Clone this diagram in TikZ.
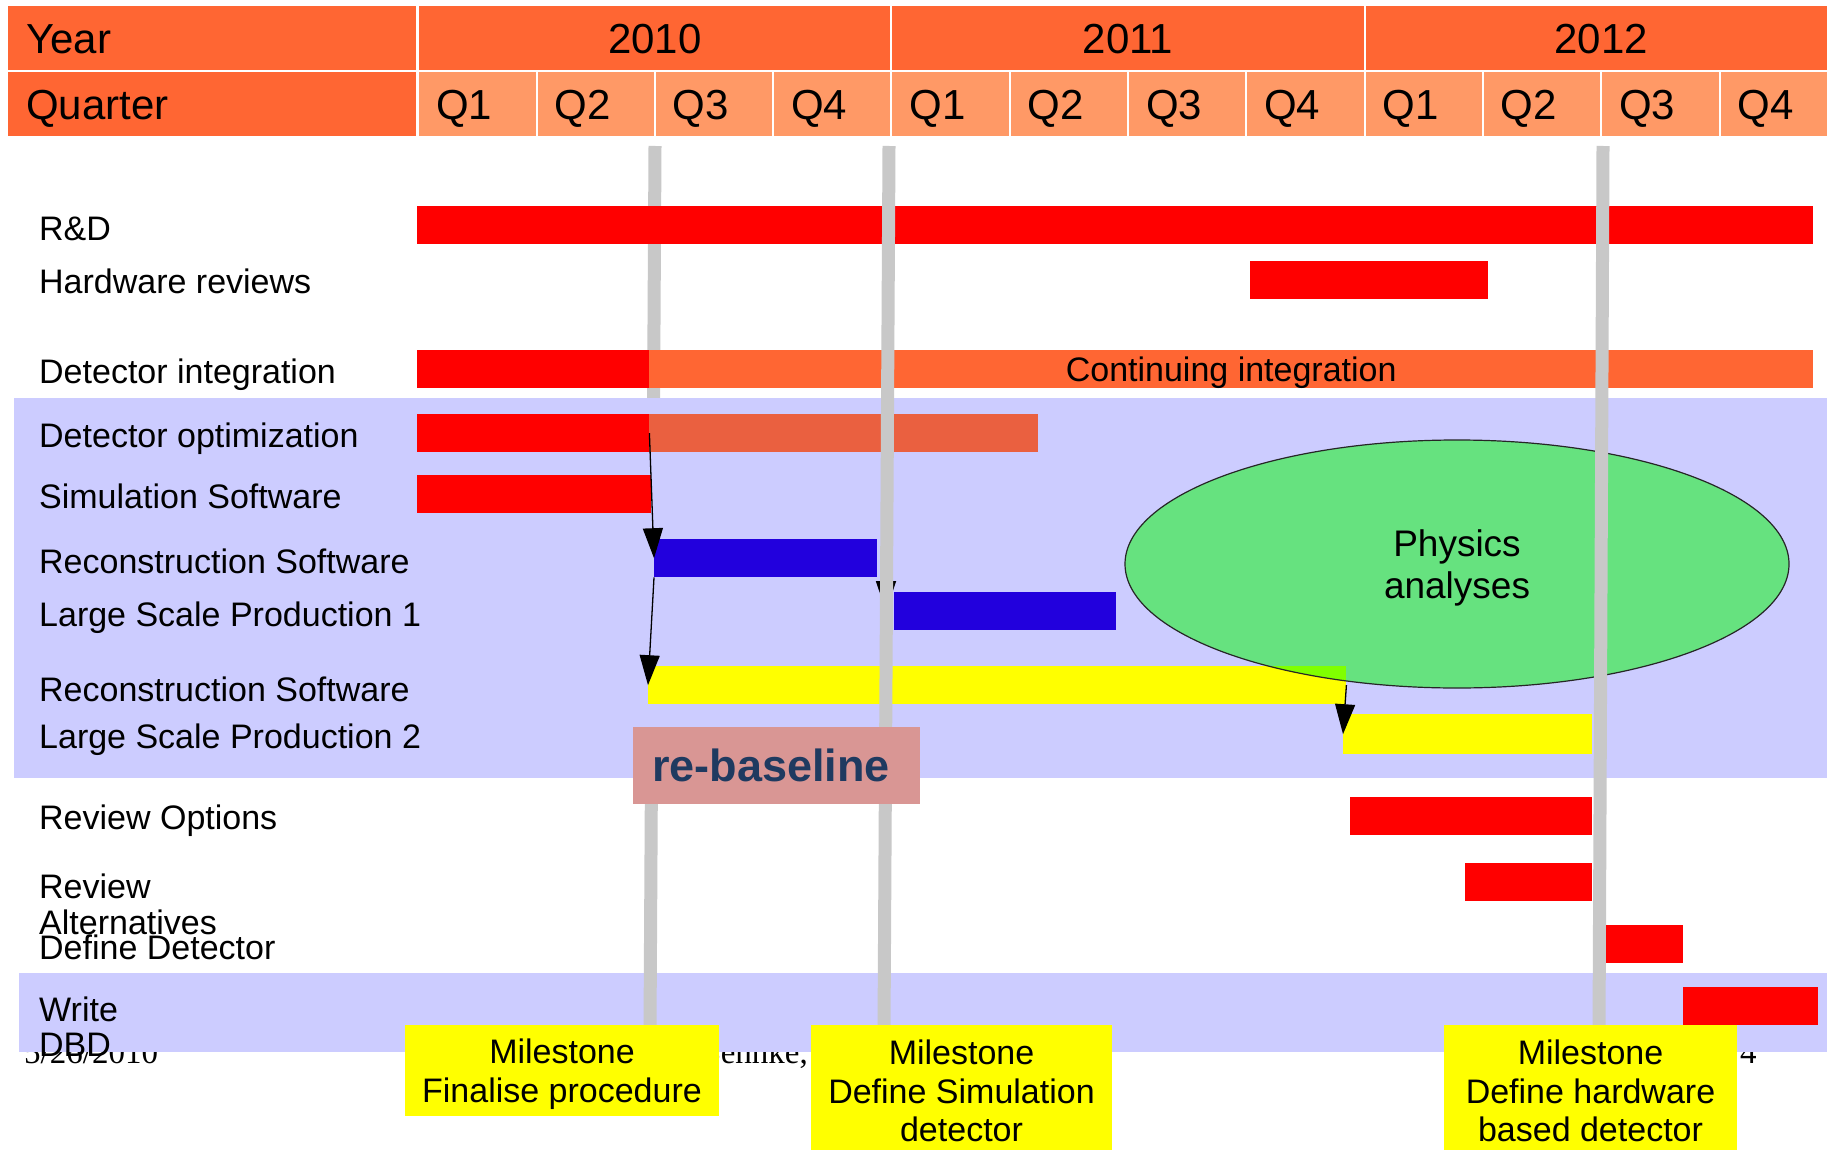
\documentclass[tikz,border=0pt]{standalone}
\usepackage{fontspec}
\setmainfont{Liberation Sans}
\newfontfamily\footserif{Liberation Serif}
\usetikzlibrary{shapes.geometric,arrows.meta}
\definecolor{hdrorange}{HTML}{FF6633}
\definecolor{qorange}{HTML}{FF9966}
\definecolor{barred}{HTML}{FF0000}
\definecolor{optorange}{HTML}{EA6040}
\definecolor{barblue}{HTML}{2200DD}
\definecolor{baryellow}{HTML}{FFFF00}
\definecolor{lav}{HTML}{CCCCFF}
\definecolor{msgray}{HTML}{C8C8C8}
\definecolor{ellgreen}{HTML}{66E27F}
\definecolor{overlapgreen}{HTML}{80FF00}
\definecolor{rbpink}{HTML}{D99694}
\definecolor{rbnavy}{HTML}{1F3A60}
\newcommand\lblfont{\fontsize{34}{38.5}\selectfont}
\newcommand\hdrfont{\fontsize{42}{46}\selectfont}
\newcommand\ellfont{\fontsize{37}{42}\selectfont}
\newcommand\rbfont{\fontsize{45}{50}\selectfont\bfseries}
\newcommand\footfont{\footserif\fontsize{33}{36}\selectfont}
\begin{document}
\begin{tikzpicture}[x=1pt,y=-1pt,
  hdrcell/.style={anchor=north west, fill=hdrorange, minimum height=64pt, inner ysep=0pt,
                  font=\hdrfont, text height=30pt, text depth=0pt},
  bar/.style={anchor=north west, inner sep=0pt, minimum height=38pt},
  lbl/.style={anchor=west, inner sep=0pt, font=\lblfont, text height=24.3pt, text depth=0pt},
  band/.style={fill=lav},
  msline/.style={draw=msgray, line width=13pt},
  arr/.style={-{Triangle[length=30pt,width=20pt]}, line width=1.3pt, black},
  mstone/.style={fill=baryellow, inner sep=0pt, align=center, font=\lblfont},
  foot/.style={inner sep=0pt, font=\footfont}]
\clip (0,0) rectangle (1827,1150);
\fill[white] (0,0) rectangle (1827,1150);

% header
\node[hdrcell, text width=372pt, inner xsep=18pt, align=left] (yearlbl) at (8,6) {Year};
\node[hdrcell, text width=372pt, inner xsep=18pt, align=left] (quarterlbl) at (8,72) {Quarter};
\foreach \i/\yr in {0/2010,1/2011,2/2012}
  \node[hdrcell, minimum width=471.2pt, inner xsep=0pt] (y\yr) at ({419+473.2*\i},6) {\yr};
\foreach \i/\qq in {0/Q1,1/Q2,2/Q3,3/Q4,4/Q1,5/Q2,6/Q3,7/Q4,8/Q1,9/Q2,10/Q3,11/Q4}
  \node[hdrcell, fill=qorange, text width=82.3pt, inner xsep=17pt, align=left] (q\i) at ({419+118.3*\i},72) {\qq};

% footer (partly hidden)
\node[foot, anchor=base west] (fdate) at (24,1063) {5/26/2010};
\node[foot, anchor=base east] (fauthor) at (808,1063) {Behnke,};
\node[foot, anchor=base west] (fpage) at (1740,1063) {4};

% lower band
\fill[band] (19,973) rectangle (1827,1052);

% milestone line 1 (under upper band)
\coordinate (m1a) at (655,146);
\coordinate (m1b) at (650,1030);
\draw[msline] (m1a) -- (m1b);

% upper band
\fill[band] (14,398) rectangle (1827,778);

% bars
\node[bar, fill=barred, minimum width=1396pt] (rd) at (417,206) {};
\node[bar, fill=barred, minimum width=238pt] (hw) at (1250,261) {};
\node[bar, fill=barred, minimum width=232pt] (di1) at (417,350) {};
\node[bar, fill=hdrorange, minimum width=1164pt, font=\lblfont, text height=24.3pt, text depth=0pt] (di2) at (649,350) {Continuing integration};
\node[bar, fill=barred, minimum width=232pt] (do1) at (417,414) {};
\node[bar, fill=optorange, minimum width=389pt] (do2) at (649,414) {};
\node[bar, fill=barred, minimum width=234pt] (ss) at (417,475) {};
\node[bar, fill=barblue, minimum width=223pt] (rs1) at (654,539) {};
\node[bar, fill=barblue, minimum width=222pt] (lsp1) at (894,592) {};
\node[bar, fill=baryellow, minimum width=698pt] (rs2) at (648,666) {};
\node[bar, fill=baryellow, minimum width=249pt, minimum height=40pt] (lsp2) at (1343,714) {};
\node[bar, fill=barred, minimum width=242pt] (ro) at (1350,797) {};
\node[bar, fill=barred, minimum width=127pt] (ra) at (1465,863) {};
\node[bar, fill=barred, minimum width=77pt] (dd) at (1606,925) {};
\node[bar, fill=barred, minimum width=135pt] (wd) at (1683,987) {};

% physics analyses ellipse
\node[ellipse, fill=ellgreen, minimum width=664pt, minimum height=248pt, inner sep=0pt,
      align=center, font=\ellfont, text depth=0pt] (phys) at (1457,564) {Physics\\analyses};
\begin{scope}
  \clip (phys.center) ellipse [x radius=332pt, y radius=124pt];
  \fill[overlapgreen] (rs2.north west) rectangle (rs2.south east);
\end{scope}
\draw[line width=1.2pt, black!85] (phys.center) ellipse [x radius=332pt, y radius=124pt];

% dependency arrows
\draw[arr] (do1.east) -- (rs1.west);
\draw[arr] (rs1.south west) -- (rs2.west);
\draw[arr] (rs2.east) -- (lsp2.west);
\coordinate (d1) at (886,577);
\draw[arr] (d1) -- (d1 |- lsp1.west);

% milestone lines 2 and 3 (on top)
\coordinate (m2a) at (889,146);
\coordinate (m2b) at (884,1030);
\coordinate (m3a) at (1603,146);
\coordinate (m3b) at (1599,1030);
\draw[msline] (m2a) -- (m2b);
\draw[msline] (m3a) -- (m3b);

% row labels
\node[lbl] (lrd) at (39,228) {R\&D};
\node[lbl] (lhw) at (39,281.5) {Hardware reviews};
\node[lbl] (ldi) at (39,371.5) {Detector integration};
\node[lbl] (ldo) at (39,435) {Detector optimization};
\node[lbl] (lss) at (39,496.5) {Simulation Software};
\node[lbl] (lrs1) at (39,561.5) {Reconstruction Software};
\node[lbl] (llsp1) at (39,614.5) {Large Scale Production 1};
\node[lbl] (lrs2) at (39,689) {Reconstruction Software};
\node[lbl] (llsp2) at (39,736.5) {Large Scale Production 2};
\node[lbl] (lro) at (39,817.5) {Review Options};
\node[lbl] (lra1) at (39,886) {Review};
\node[lbl] (lra2) at (39,922.5) {Alternatives};
\node[lbl] (ldd) at (39,947.5) {Define Detector};
\node[lbl] (lwd1) at (39,1009) {Write};
\node[lbl] (lwd2) at (39,1044) {DBD};

% re-baseline
\node[fill=rbpink, minimum height=77pt, text width=249pt, inner xsep=19pt, inner ysep=0pt, align=left,
      font=\rbfont, text=rbnavy] (rebase) at (776.5,765.5) {re-baseline};

% milestone boxes
\node[mstone, minimum width=314pt, minimum height=91pt, text depth=0pt] (ms1) at (562,1070.5) {Milestone\\Finalise procedure};
\node[mstone, minimum width=301pt, minimum height=132pt] (ms2) at (961.5,1091) {Milestone\\Define Simulation\\detector};
\node[mstone, minimum width=293pt, minimum height=132pt] (ms3) at (1590.5,1091) {Milestone\\Define hardware\\based detector};
\end{tikzpicture}
\end{document}
